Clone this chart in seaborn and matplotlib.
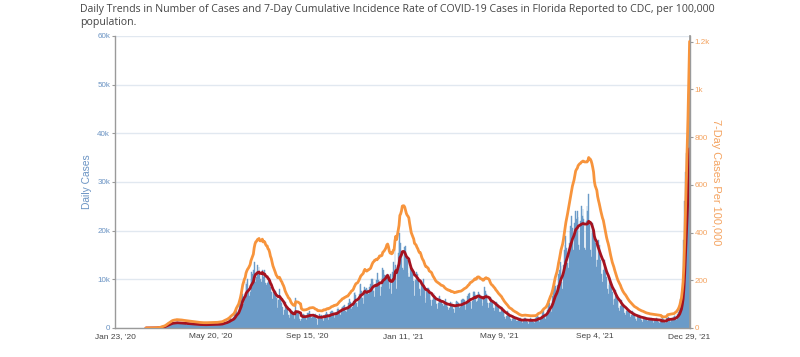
import numpy as np
import pandas as pd
import matplotlib
matplotlib.use("Agg")
import matplotlib.pyplot as plt
import seaborn as sns

# ---------------- data ----------------
START_DATE = "2020-01-23"
FL_POPULATION = 21477737

# Daily reported cases, one row per week (Thu..Wed)
cases_2020_winter = [
    [0, 0, 0, 0, 0, 0, 0], [0, 0, 0, 0, 0, 0, 0], [0, 0, 0, 0, 0, 0, 0],
    [0, 0, 0, 0, 0, 0, 0], [0, 0, 0, 0, 0, 0, 0], [0, 0, 0, 1, 2, 1, 3],
    [4, 6, 8, 5, 12, 15, 20], [30, 40, 60, 50, 70, 110, 160],
    [220, 260, 300, 250, 330, 420, 500], [700, 800, 900, 700, 800, 950, 1050],
]
cases_2020_spring = [
    [1200, 1150, 1100, 900, 850, 1100, 1250], [1150, 1100, 1050, 850, 800, 1000, 1100],
    [1050, 1000, 950, 750, 700, 900, 1000], [950, 900, 850, 650, 600, 800, 900],
    [850, 800, 750, 600, 550, 700, 800], [780, 750, 700, 550, 520, 680, 760],
    [800, 780, 720, 560, 540, 700, 800], [820, 800, 750, 600, 560, 720, 830],
    [850, 900, 820, 700, 650, 850, 950], [1250, 1300, 1200, 1000, 950, 1250, 1400],
]
cases_2020_summer = [
    [1800, 1900, 2000, 1600, 1500, 1800, 2200], [3000, 3500, 4000, 3000, 2700, 3300, 5000],
    [5500, 7000, 8500, 7000, 5000, 6000, 6500], [9500, 9000, 10000, 8000, 6500, 7500, 10000],
    [11500, 11000, 12000, 13600, 10000, 9500, 10500], [13000, 11500, 12500, 11500, 10000, 9500, 12000],
    [10500, 12000, 12000, 9300, 8800, 9200, 9500], [9800, 9500, 8500, 7300, 5500, 6000, 7500],
    [7600, 7700, 6200, 6200, 4100, 5800, 8100], [6200, 5900, 5200, 4300, 2700, 3800, 5400],
    [4500, 4300, 4000, 2600, 2100, 2700, 3400], [3200, 3400, 3200, 2400, 1900, 6200, 3300],
]
cases_2020_autumn = [
    [3200, 3100, 2600, 1900, 1500, 1900, 2600], [2800, 2900, 2700, 2000, 1600, 2200, 3000],
    [3000, 3500, 2800, 2100, 1700, 2300, 2800], [2600, 2800, 2600, 1800, 700, 2200, 2900],
    [2500, 2600, 2700, 1900, 1400, 2500, 2600], [2800, 3300, 2900, 1700, 2000, 2600, 3300],
    [3400, 3500, 3100, 2400, 2000, 3000, 3200], [3900, 4400, 4000, 3300, 2700, 3500, 4300],
    [4300, 4600, 4800, 3500, 3200, 4000, 4300], [5200, 5900, 5400, 4800, 3900, 4400, 5500],
    [7100, 7400, 6800, 5200, 4300, 5600, 7000], [8900, 9000, 7600, 6100, 5000, 7800, 8400],
    [8000, 8300, 7900, 7000, 5200, 8400, 9000],
]
cases_2020_winter_wave = [
    [10000, 10100, 9400, 7700, 6400, 8500, 9800], [9500, 11300, 9900, 9400, 6600, 8400, 10200],
    [12300, 12000, 10800, 10600, 8100, 10800, 11000], [10000, 8000, 9000, 11000, 7000, 11500, 13500],
    [10600, 16000, 13000, 8000, 11500, 15500, 17800], [19500, 17500, 15600, 12300, 11900, 15400, 16600],
    [16800, 14500, 14000, 11400, 10500, 10500, 12500], [12500, 12400, 12200, 9600, 6500, 9800, 11600],
    [10600, 11100, 10200, 8100, 6600, 7800, 9100], [8900, 10000, 8000, 6200, 5200, 7700, 8300],
    [8200, 7900, 7400, 5800, 4500, 5800, 6800], [7100, 6600, 6000, 5000, 4000, 5200, 6400],
]
cases_2021_spring = [
    [6500, 6000, 5300, 4900, 3700, 4600, 5400], [5900, 5300, 5000, 4300, 3700, 4100, 5400],
    [5000, 5400, 4800, 4000, 3100, 4400, 5400], [5500, 5300, 5200, 4100, 3300, 4400, 5800],
    [6000, 5900, 5800, 4500, 3700, 5000, 6600], [7000, 6300, 7200, 5300, 3900, 5600, 7300],
    [7600, 7400, 6800, 5400, 5600, 5900, 7300], [7000, 6500, 6600, 5100, 4600, 6000, 8500],
    [7600, 6900, 5900, 5100, 4200, 5100, 6400], [6100, 6000, 5400, 4100, 3400, 4200, 5000],
    [5400, 4900, 4400, 3200, 2700, 3300, 4300], [3900, 3900, 3100, 2200, 1800, 2500, 3400],
    [3000, 2800, 2400, 1800, 1400, 1900, 2600], [2500, 2300, 2000, 1500, 900, 1400, 2000],
]
cases_2021_summer = [
    [2100, 2000, 1600, 1300, 1000, 1600, 2000], [2100, 1900, 1600, 1200, 900, 1500, 1900],
    [2000, 1900, 1500, 1200, 1100, 1500, 2000], [2300, 2600, 2200, 1600, 1300, 2000, 2500],
    [3300, 3600, 3000, 2200, 1800, 2900, 3800], [5000, 5700, 5200, 4000, 3300, 5200, 6600],
    [8500, 9300, 8700, 6600, 5600, 8800, 11000], [12000, 13500, 12800, 9400, 8100, 12900, 16000],
    [17000, 18900, 16400, 13300, 12400, 17500, 20000], [21000, 23000, 20500, 16000, 15200, 21600, 24000],
    [22500, 24000, 22800, 17000, 16000, 22000, 25000], [23000, 24500, 22500, 16500, 16000, 22000, 25000],
    [24000, 27500, 21500, 16000, 14500, 19500, 21500],
]
cases_2021_autumn = [
    [20000, 19000, 17500, 14000, 12500, 14000, 18000], [17000, 15500, 14000, 11000, 9500, 12000, 14000],
    [12500, 12000, 10500, 8000, 7000, 8800, 10200], [9000, 8700, 7500, 5800, 4800, 6000, 7800],
    [6600, 6400, 5500, 4200, 3400, 4600, 5700], [5000, 4800, 4300, 3100, 2600, 3500, 4400],
    [3800, 3700, 3200, 2300, 1900, 2700, 3400], [3000, 3000, 2700, 1900, 1500, 2200, 2700],
    [2600, 2500, 2300, 1700, 1300, 1900, 2300], [2200, 2200, 2000, 1500, 1200, 1700, 2000],
    [2100, 2000, 1900, 1400, 1100, 1600, 1900], [2000, 1900, 1800, 1300, 1000, 1500, 1800],
    [700, 2000, 1800, 1200, 1100, 1600, 2100], [2100, 2200, 1900, 1400, 1200, 1800, 2100],
    [2200, 2400, 2600, 2000, 1700, 2900, 3200], [3800, 4500, 6000, 5000, 8000, 11000, 18000],
    [26000, 32000, 36000, 28000, 38000, 48000, 50000],
]

x_tick_dates = ["2020-01-23", "2020-05-20", "2020-09-15", "2021-01-11",
                "2021-05-09", "2021-09-04", "2021-12-29"]
x_tick_labels = ["Jan 23, '20", "May 20, '20", "Sep 15, '20", "Jan 11, '21",
                 "May 9, '21", "Sep 4, '21", "Dec 29, '21"]
left_ticks = [0, 10000, 20000, 30000, 40000, 50000, 60000]
left_tick_labels = ["0", "10k", "20k", "30k", "40k", "50k", "60k"]
right_ticks = [0, 200, 400, 600, 800, 1000, 1200]
right_tick_labels = ["0", "200", "400", "600", "800", "1k", "1.2k"]

TITLE = ("Daily Trends in Number of Cases and 7-Day Cumulative Incidence Rate of "
         "COVID-19 Cases in Florida Reported to CDC, per 100,000\npopulation.")

# ---------------- assemble ----------------
rows = (cases_2020_winter + cases_2020_spring + cases_2020_summer + cases_2020_autumn
        + cases_2020_winter_wave + cases_2021_spring + cases_2021_summer + cases_2021_autumn)
daily = [v for r in rows for v in r]
dates = pd.date_range(START_DATE, periods=len(daily), freq="D")
day = (dates - pd.Timestamp(START_DATE)).days.values

df = pd.DataFrame({"day": day, "cases": daily})
roll = df["cases"].rolling(7, min_periods=1)
df["avg7"] = roll.mean()
df["per100k"] = roll.sum() / FL_POPULATION * 100000
df.loc[df["avg7"] <= 0, ["avg7", "per100k"]] = np.nan
bars = df[df["cases"] > 0]

tick_pos = [(pd.Timestamp(d) - pd.Timestamp(START_DATE)).days for d in x_tick_dates]

# ---------------- style ----------------
sns.set_theme(style="white")
plt.rcParams["font.family"] = ["Liberation Sans", "DejaVu Sans"]

BAR = "#6b9bc8"
RED = "#a5121f"
ORANGE = "#f7943c"
LBLUE = "#6a93c3"
LORANGE = "#f4a25e"
GRID = "#e1e8f0"
AXIS = "#9a9a9a"

fig = plt.figure(figsize=(8.0, 3.57), dpi=100)
ax = fig.add_axes([115 / 800, 1 - 328 / 357, 575 / 800, 292 / 357])

sns.histplot(data=bars, x="day", weights="cases", discrete=True, shrink=1.0,
             color=BAR, alpha=1.0, edgecolor=BAR, linewidth=0.3, ax=ax, zorder=2)
sns.lineplot(data=df, x="day", y="avg7", color=RED, linewidth=2.0, ax=ax, zorder=3)

ax.set_xlim(0, 706.5)
ax.set_ylim(0, 60000)
ax.set_yticks(left_ticks)
ax.set_yticklabels(left_tick_labels)
ax.set_xticks(tick_pos)
ax.set_xticklabels(x_tick_labels)
ax.grid(axis="y", color=GRID, linewidth=1.0, zorder=0)
ax.grid(axis="x", visible=False)
ax.set_axisbelow(True)
ax.set_xlabel("")
ax.set_ylabel("Daily Cases", color=LBLUE, fontsize=7.4, labelpad=4)
ax.tick_params(axis="y", colors=LBLUE, labelsize=5.8, length=2.5, width=0.8,
               pad=1, left=True, color=AXIS)
ax.tick_params(axis="x", colors="#444444", labelsize=6.0, length=0, pad=3.5)
for t in ax.get_yticklabels():
    t.set_color(LBLUE)
ax.spines["top"].set_visible(False)
for s in ["left", "bottom", "right"]:
    ax.spines[s].set_color(AXIS)
    ax.spines[s].set_linewidth(1.0)

ax2 = ax.twinx()
sns.lineplot(data=df, x="day", y="per100k", color=ORANGE, linewidth=2.0, ax=ax2, zorder=4)
ax2.set_ylim(0, 1224)
ax2.set_yticks(right_ticks)
ax2.set_yticklabels(right_tick_labels)
ax2.set_ylabel("7-Day Cases Per 100,000", color=LORANGE, fontsize=7.9,
               rotation=270, labelpad=8)
ax2.tick_params(axis="y", colors=LORANGE, labelsize=5.8, length=2.5, width=0.8,
                pad=1, right=True, color=AXIS)
for t in ax2.get_yticklabels():
    t.set_color(LORANGE)
ax2.grid(False)
ax2.spines["top"].set_visible(False)
ax2.spines["right"].set_color(AXIS)
ax2.spines["left"].set_visible(False)
ax2.spines["bottom"].set_visible(False)
ax2.set_xlim(0, 706.5)

fig.text(80 / 800, 1 - 4 / 357, TITLE, ha="left", va="top", fontsize=7.55,
         color="#444444", family=["Open Sans", "DejaVu Sans"], linespacing=1.3)

fig.savefig("out.png", dpi=100)
